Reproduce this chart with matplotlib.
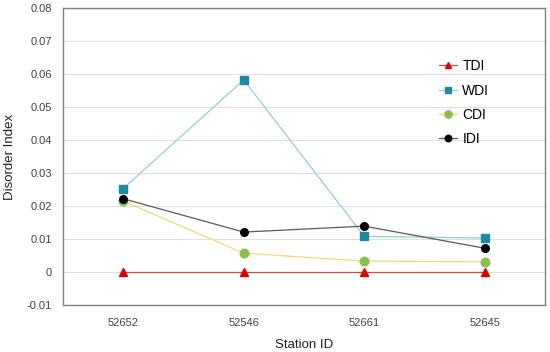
import matplotlib
matplotlib.use("Agg")
import matplotlib.pyplot as plt
import numpy as np

stations = ["52652", "52546", "52661", "52645"]
tdi = [0.0, 0.0, 0.0, 0.0]
wdi = [0.0253, 0.0582, 0.0108, 0.0103]
cdi = [0.0215, 0.0057, 0.0033, 0.0031]
idi = [0.0222, 0.0121, 0.0139, 0.0072]

plt.rcParams['font.family'] = ['Liberation Sans', 'DejaVu Sans']

fig = plt.figure(figsize=(5.5, 3.52), dpi=100)
ax = fig.add_axes([63/550, 1-305/352, (545-63)/550, (305-8)/352])

x = np.arange(len(stations))
ax.plot(x, tdi, color="#c0504d", lw=0.9, marker="^", ms=5.5, mfc="#e00000", mec="#e00000", label="TDI", zorder=3)
ax.plot(x, wdi, color="#92cddc", lw=0.9, marker="s", ms=5.2, mfc="#1b8ba0", mec="#1b8ba0", label="WDI", zorder=3)
ax.plot(x, cdi, color="#f5d77a", lw=0.9, marker="o", ms=6.2, mfc="#8cc04e", mec="#8cc04e", label="CDI", zorder=3)
ax.plot(x, idi, color="#595959", lw=0.9, marker="o", ms=5.5, mfc="black", mec="black", label="IDI", zorder=4)

ax.set_xlim(-0.5, 3.5)
ax.set_ylim(-0.01, 0.08)
ax.set_yticks(np.arange(-0.01, 0.081, 0.01))
ax.set_yticklabels(["-0.01", "0", "0.01", "0.02", "0.03", "0.04", "0.05", "0.06", "0.07", "0.08"])
ax.set_xticks(x)
ax.set_xticklabels(stations)
ax.tick_params(length=0, labelsize=8, colors="#404040")
ax.tick_params(axis="x", pad=9)
ax.tick_params(axis="y", pad=8)
ax.grid(axis="y", color="#e0e0e0", lw=0.8)
ax.set_axisbelow(True)
for s in ax.spines.values():
    s.set_color("#808080")
    s.set_linewidth(1)

ax.set_xlabel("Station ID", fontsize=9.5, color="#202020", labelpad=8)
ax.set_ylabel("Disorder Index", fontsize=9.5, color="#202020", labelpad=8)

ax.legend(loc="upper left", bbox_to_anchor=(0.755, 0.87), frameon=False, fontsize=10,
          handlelength=1.3, handletextpad=0.35, labelspacing=0.75, markerscale=0.85)

fig.savefig("out.png", dpi=100)
